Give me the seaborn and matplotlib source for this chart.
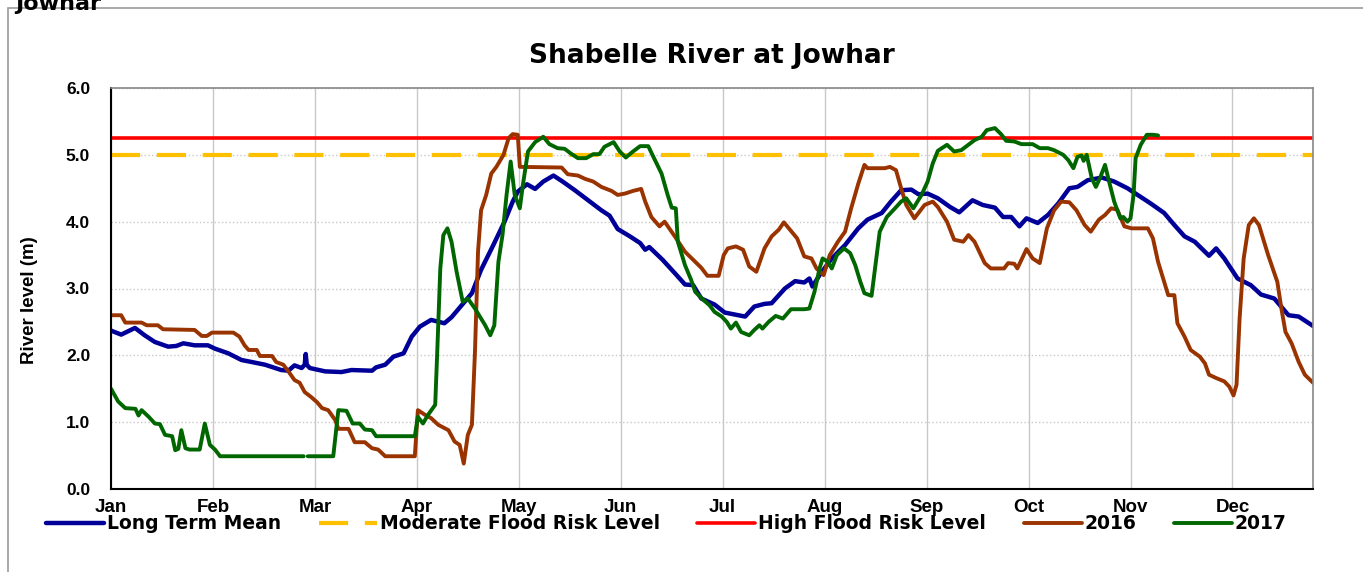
import numpy as np
import pandas as pd
import seaborn as sns
import matplotlib.pyplot as plt
from matplotlib.patches import Rectangle

# x positions are in month units (0 = 1 Jan, 1 = 1 Feb, ...), levels in metres
months = ["Jan", "Feb", "Mar", "Apr", "May", "Jun", "Jul", "Aug", "Sep", "Oct", "Nov", "Dec"]
x_end = 11.79

moderate_level = 5.0
high_level = 5.25

mean_m = [0.00, 0.10, 0.235, 0.33, 0.43, 0.56, 0.64, 0.71, 0.82, 0.95, 1.02, 1.15, 1.28, 1.38,
          1.51, 1.67, 1.74, 1.80, 1.87, 1.90, 1.91, 1.92, 1.95, 2.10, 2.26, 2.36, 2.56, 2.60,
          2.69, 2.77, 2.87, 2.95, 3.03, 3.14, 3.27, 3.34, 3.44, 3.54, 3.63, 3.75, 3.86, 3.94,
          3.99, 4.08, 4.16, 4.24, 4.34, 4.43, 4.55, 4.68, 4.81, 4.89, 4.97, 5.09, 5.19, 5.24,
          5.28, 5.41, 5.53, 5.63, 5.71, 5.79, 5.92, 6.02, 6.12, 6.22, 6.31, 6.41, 6.48, 6.61,
          6.71, 6.80, 6.85, 6.88, 6.95, 7.07, 7.20, 7.33, 7.42, 7.56, 7.65, 7.75, 7.85, 7.92,
          8.01, 8.11, 8.23, 8.32, 8.45, 8.55, 8.67, 8.75, 8.83, 8.91, 8.98, 9.09, 9.19, 9.29,
          9.40, 9.48, 9.58, 9.72, 9.84, 9.97, 10.07, 10.20, 10.33, 10.43, 10.53, 10.63, 10.73,
          10.77, 10.84, 10.92, 11.05, 11.18, 11.28, 11.41, 11.55, 11.65, 11.79]
mean_lvl = [2.37, 2.31, 2.41, 2.30, 2.20, 2.13, 2.14, 2.18, 2.15, 2.15, 2.10, 2.03, 1.93, 1.90,
            1.86, 1.78, 1.77, 1.85, 1.81, 1.86, 2.02, 1.86, 1.81, 1.76, 1.75, 1.78, 1.77, 1.82,
            1.86, 1.98, 2.03, 2.28, 2.43, 2.53, 2.48, 2.57, 2.75, 2.93, 3.28, 3.65, 4.00, 4.30,
            4.45, 4.56, 4.49, 4.60, 4.69, 4.60, 4.47, 4.32, 4.17, 4.09, 3.89, 3.78, 3.68, 3.58,
            3.62, 3.43, 3.23, 3.06, 3.05, 2.85, 2.76, 2.64, 2.61, 2.58, 2.73, 2.77, 2.78, 3.00,
            3.11, 3.09, 3.15, 3.03, 3.20, 3.45, 3.65, 3.90, 4.03, 4.13, 4.30, 4.47, 4.48, 4.41,
            4.42, 4.35, 4.22, 4.14, 4.32, 4.25, 4.21, 4.07, 4.07, 3.93, 4.05, 3.98, 4.10, 4.27,
            4.50, 4.52, 4.62, 4.66, 4.60, 4.50, 4.40, 4.27, 4.13, 3.95, 3.78, 3.70, 3.55,
            3.49, 3.60, 3.45, 3.15, 3.05, 2.91, 2.85, 2.60, 2.58, 2.44]

y2016_m = [0.00, 0.10, 0.14, 0.30, 0.35, 0.46, 0.51, 0.82, 0.89, 0.94, 0.99, 1.20, 1.26, 1.31,
           1.35, 1.43, 1.46, 1.58, 1.62, 1.69, 1.74, 1.80, 1.85, 1.90, 1.96, 2.02, 2.07, 2.13,
           2.20, 2.23, 2.33, 2.39, 2.49, 2.56, 2.62, 2.69, 2.98, 3.01, 3.08, 3.14, 3.21, 3.31,
           3.37, 3.42, 3.46, 3.50, 3.54, 3.57, 3.60, 3.63, 3.68, 3.73, 3.78, 3.85, 3.90, 3.94,
           3.99, 4.01, 4.42, 4.48, 4.58, 4.65, 4.73, 4.81, 4.91, 4.97, 5.04, 5.12, 5.20, 5.24,
           5.30, 5.38, 5.43, 5.53, 5.63, 5.73, 5.79, 5.85, 5.96, 6.01, 6.05, 6.13, 6.20, 6.26,
           6.33, 6.41, 6.48, 6.55, 6.60, 6.66, 6.73, 6.80, 6.87, 6.92, 6.99, 7.05, 7.13, 7.20,
           7.26, 7.33, 7.39, 7.42, 7.59, 7.64, 7.70, 7.75, 7.80, 7.88, 7.98, 8.06, 8.11, 8.20,
           8.27, 8.36, 8.41, 8.47, 8.57, 8.63, 8.76, 8.80, 8.86, 8.89, 8.98, 9.04, 9.11, 9.18,
           9.25, 9.32, 9.40, 9.47, 9.55, 9.61, 9.69, 9.75, 9.81, 9.87, 9.94, 10.01, 10.17,
           10.22, 10.27, 10.33, 10.37, 10.43, 10.46, 10.53, 10.59, 10.68, 10.73, 10.77, 10.84,
           10.92, 10.97, 11.01, 11.04, 11.07, 11.11, 11.16, 11.21, 11.26, 11.35, 11.44, 11.48,
           11.52, 11.58, 11.65, 11.71, 11.79]
y2016_lvl = [2.60, 2.60, 2.49, 2.49, 2.45, 2.45, 2.39, 2.38, 2.29, 2.29, 2.34, 2.34, 2.28, 2.15,
             2.08, 2.08, 1.99, 1.99, 1.90, 1.86, 1.76, 1.63, 1.59, 1.45, 1.38, 1.30, 1.21, 1.18,
             1.03, 0.90, 0.90, 0.70, 0.70, 0.61, 0.59, 0.49, 0.49, 1.18, 1.11, 1.06, 0.96, 0.88,
             0.71, 0.66, 0.38, 0.81, 0.96, 2.05, 3.55, 4.17, 4.40, 4.72, 4.82, 5.00, 5.25, 5.31,
             5.30, 4.82, 4.81, 4.71, 4.69, 4.64, 4.60, 4.52, 4.46, 4.40, 4.42, 4.46, 4.49, 4.30,
             4.07, 3.93, 4.00, 3.78, 3.55, 3.40, 3.31, 3.19, 3.19, 3.50, 3.60, 3.63, 3.58, 3.33,
             3.25, 3.60, 3.78, 3.88, 3.99, 3.88, 3.75, 3.48, 3.45, 3.30, 3.20, 3.50, 3.70, 3.85,
             4.20, 4.57, 4.85, 4.80, 4.80, 4.82, 4.77, 4.50, 4.25, 4.05, 4.25, 4.30, 4.22, 4.00,
             3.73, 3.70, 3.80, 3.70, 3.38, 3.30, 3.30, 3.38, 3.37, 3.30, 3.59, 3.45, 3.38, 3.90,
             4.17, 4.30, 4.29, 4.17, 3.95, 3.85, 4.03, 4.10, 4.20, 4.18, 3.93, 3.90, 3.90,
             3.75, 3.40, 3.10, 2.90, 2.90, 2.48, 2.28, 2.08, 1.98, 1.88, 1.71, 1.66,
             1.61, 1.53, 1.40, 1.56, 2.55, 3.45, 3.95, 4.05, 3.95, 3.50, 3.10, 2.70,
             2.35, 2.18, 1.90, 1.71, 1.59]

# 2017 has a short break in the record at the end of February
y2017a_m = [0.00, 0.07, 0.14, 0.24, 0.27, 0.30, 0.37, 0.43, 0.48, 0.53, 0.60, 0.63, 0.66, 0.69,
            0.73, 0.77, 0.87, 0.92, 0.97, 1.02, 1.07, 1.89]
y2017a_lvl = [1.50, 1.31, 1.21, 1.20, 1.10, 1.18, 1.08, 0.98, 0.97, 0.81, 0.79, 0.58, 0.60, 0.88,
              0.61, 0.59, 0.59, 0.98, 0.66, 0.59, 0.49, 0.49]
y2017b_m = [1.93, 2.18, 2.23, 2.31, 2.37, 2.44, 2.49, 2.56, 2.60, 2.98, 3.01, 3.06, 3.11, 3.18,
            3.20, 3.23, 3.26, 3.30, 3.34, 3.39, 3.45, 3.50, 3.57, 3.67, 3.72, 3.76, 3.80, 3.84,
            3.88, 3.92, 3.96, 4.01, 4.04, 4.09, 4.16, 4.24, 4.30, 4.38, 4.45, 4.51, 4.58, 4.66,
            4.73, 4.79, 4.84, 4.93, 4.99, 5.05, 5.12, 5.19, 5.27, 5.32, 5.40, 5.46, 5.50, 5.54,
            5.56, 5.63, 5.69, 5.73, 5.81, 5.87, 5.92, 5.99, 6.04, 6.08, 6.13, 6.18, 6.26, 6.31,
            6.36, 6.39, 6.45, 6.52, 6.59, 6.67, 6.80, 6.85, 6.90, 6.95, 6.98, 7.03, 7.07, 7.12,
            7.19, 7.25, 7.30, 7.35, 7.39, 7.46, 7.49, 7.54, 7.61, 7.69, 7.75, 7.80, 7.87, 7.95,
            8.01, 8.06, 8.11, 8.20, 8.27, 8.34, 8.41, 8.47, 8.54, 8.59, 8.67, 8.73, 8.78, 8.86,
            8.93, 9.04, 9.11, 9.19, 9.25, 9.34, 9.39, 9.44, 9.48, 9.52, 9.54, 9.57, 9.62, 9.66,
            9.70, 9.75, 9.79, 9.84, 9.90, 9.93, 9.97, 10.00, 10.03, 10.05, 10.10, 10.16, 10.22,
            10.27]
y2017b_lvl = [0.49, 0.49, 1.18, 1.17, 0.98, 0.98, 0.89, 0.88, 0.79, 0.79, 1.08, 0.98, 1.11, 1.26,
              2.05, 3.30, 3.80, 3.90, 3.70, 3.25, 2.80, 2.85, 2.70, 2.45, 2.30, 2.45, 3.40, 3.80,
              4.40, 4.90, 4.40, 4.20, 4.55, 5.05, 5.19, 5.27, 5.16, 5.10, 5.09, 5.02, 4.95, 4.95,
              5.01, 5.01, 5.12, 5.19, 5.05, 4.96, 5.05, 5.13, 5.13, 4.97, 4.72, 4.40, 4.21, 4.20,
              3.70, 3.35, 3.13, 2.95, 2.83, 2.75, 2.65, 2.58, 2.50, 2.40, 2.49, 2.35, 2.30, 2.38,
              2.45, 2.40, 2.50, 2.59, 2.55, 2.69, 2.69, 2.70, 2.95, 3.30, 3.45, 3.40, 3.30, 3.50,
              3.60, 3.53, 3.35, 3.10, 2.93, 2.89, 3.25, 3.85, 4.07, 4.20, 4.30, 4.35, 4.20, 4.40,
              4.60, 4.87, 5.06, 5.15, 5.05, 5.07, 5.15, 5.22, 5.27, 5.37, 5.40, 5.31, 5.21, 5.20,
              5.16, 5.16, 5.10, 5.10, 5.07, 5.00, 4.92, 4.80, 4.97, 4.99, 4.91, 5.00, 4.65, 4.52,
              4.65, 4.85, 4.60, 4.30, 4.05, 4.07, 4.00, 4.05, 4.40, 4.95, 5.15, 5.30, 5.30,
              5.29]

c_mean = "#000099"
c_mod = "#FFC000"
c_high = "#FF0000"
c_2016 = "#993300"
c_2017 = "#006600"

sns.set_style("white")
plt.rcParams.update({
    "text.color": "black",
    "axes.labelcolor": "black",
    "xtick.color": "black",
    "ytick.color": "black",
})
arial_like = ["Liberation Sans", "DejaVu Sans"]

fig = plt.figure(figsize=(13.63, 5.72), dpi=100)
ax = fig.add_axes([111 / 1363, 83 / 572, 1202 / 1363, 401 / 572])

# outer chart frame and the clipped heading above it
fig.patches.append(Rectangle((8 / 1363, -0.1), 1.2, 1 - 8 / 572 + 0.1, transform=fig.transFigure,
                             fill=False, edgecolor="#9a9a9a", linewidth=1.2))
fig.text(15 / 1363, 1 - 10 / 572, "Jowhar", fontsize=16, fontweight="bold", va="baseline")

kw = dict(ax=ax, estimator=None, sort=False)
sns.lineplot(x=mean_m, y=mean_lvl, color=c_mean, linewidth=3.2, label="Long Term Mean", **kw)
sns.lineplot(x=[0, x_end], y=[moderate_level] * 2, color=c_mod, linewidth=3,
             dashes=False, label="Moderate Flood Risk Level", **kw)
ax.lines[-1].set_dashes([7, 4])
sns.lineplot(x=[0, x_end], y=[high_level] * 2, color=c_high, linewidth=2.6,
             label="High Flood Risk Level", **kw)
sns.lineplot(x=y2016_m, y=y2016_lvl, color=c_2016, linewidth=2.8, label="2016", **kw)
sns.lineplot(x=y2017a_m, y=y2017a_lvl, color=c_2017, linewidth=2.8, label="2017", **kw)
sns.lineplot(x=y2017b_m, y=y2017b_lvl, color=c_2017, linewidth=2.8, **kw)

ax.set_xlim(0, x_end)
ax.set_ylim(0, 6)
ax.set_xticks(range(12))
ax.set_xticklabels(months, fontsize=13.5, fontweight="bold", family=arial_like)
ax.set_yticks(np.arange(0, 6.1, 1.0))
ax.set_yticklabels([f"{v:.1f}" for v in np.arange(0, 6.1, 1.0)], fontsize=12.5,
                   fontweight="bold", family=arial_like)
ax.tick_params(axis="both", direction="out", length=5, width=1, color="black")
ax.tick_params(axis="y", pad=10)
ax.tick_params(axis="x", pad=2)

ax.xaxis.grid(True, color="#c8c8c8", linewidth=1, linestyle="-")
ax.yaxis.grid(True, color="#c8c8c8", linewidth=1, linestyle=":")
ax.set_axisbelow(True)

for side in ["left", "bottom"]:
    ax.spines[side].set_color("black")
    ax.spines[side].set_linewidth(1.5)
for side in ["top", "right"]:
    ax.spines[side].set_color("#888888")
    ax.spines[side].set_linewidth(1.2)

ax.set_xlabel("")
ax.set_ylabel("River level (m)", fontsize=13.5, fontweight="bold", family=arial_like)
ax.yaxis.set_label_coords(-0.061, 0.47)

ax.set_title("Shabelle River at Jowhar", fontsize=19, fontweight="bold", pad=18)

handles, labels = ax.get_legend_handles_labels()
ax.get_legend().remove()
fig.legend(handles, labels, loc="center", bbox_to_anchor=(0.489, 0.084), ncol=5, frameon=False,
           prop={"weight": "bold", "size": 13.5}, handlelength=3.1, handletextpad=0.15,
           columnspacing=2.0)

plt.savefig("out.png", dpi=100)
plt.close()
